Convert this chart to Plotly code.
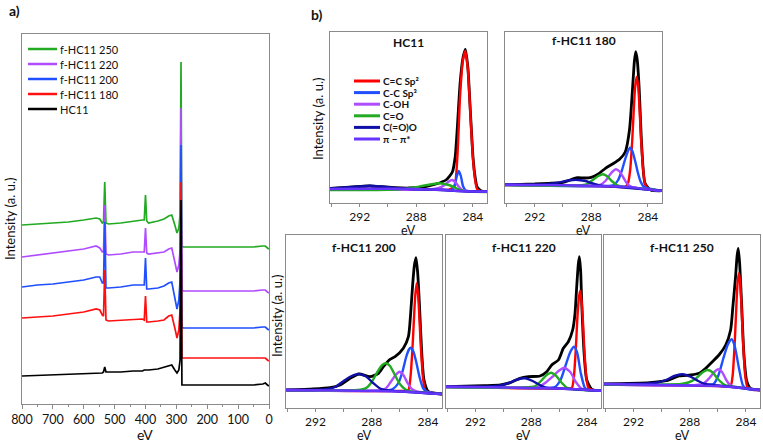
import plotly.graph_objects as go

W, H = 763, 442
FONT = "Lato"

# ---------------- Panel a: survey spectra ----------------
survey_ev = [800, 750, 700, 650, 600, 560, 548, 540, 536, 532, 528, 520, 480, 440, 410, 404, 400, 396, 390, 360,
             340, 325, 315, 305, 298, 292, 288, 285, 282, 278, 250, 200, 150, 100, 50, 20, 12, 5, 0]
survey_f250 = [179, 180, 181, 182, 184, 186, 185, 181, 182, 222, 181, 180, 181, 183, 184, 184, 209, 183, 181, 183,
               185, 188, 189, 179, 171, 176, 190, 342, 158, 157, 157, 157, 157, 157, 157, 158, 158, 156, 155]
survey_f220 = [147, 149, 151, 153, 155, 158, 156, 152, 152, 199, 150, 149, 150, 152, 152, 152, 176, 151, 150, 151,
               152, 155, 156, 142, 132, 139, 154, 296, 114, 113, 113, 113, 113, 113, 113, 114, 114, 112, 111]
survey_f200 = [117, 119, 120, 122, 124, 127, 127, 121, 121, 182, 116, 116, 117, 119, 119, 119, 146, 115, 115, 116,
               118, 121, 122, 106, 95, 104, 124, 259, 77, 76, 76, 76, 76, 76, 76, 77, 77, 75, 74]
survey_f180 = [86, 87, 88, 90, 92, 95, 94, 89, 88, 134, 84, 83, 84, 85, 85, 84, 108, 82, 82, 83,
               84, 88, 89, 76, 66, 74, 94, 222, 46, 46, 46, 46, 46, 46, 46, 46, 46, 44, 43]
survey_hc11 = [28, 28.5, 29, 29.5, 30, 30.5, 31, 31, 32, 37, 32, 32, 32, 33, 33, 34, 34, 34, 34, 35,
               37, 38, 39, 34, 31, 34, 44, 204, 19, 19, 19, 19, 19, 19, 19, 20, 21, 19, 18]
survey_names = ["f-HC11 250", "f-HC11 220", "f-HC11 200", "f-HC11 180", "HC11"]
survey_ticks = [800, 700, 600, 500, 400, 300, 200, 100, 0]

# ---------------- Panel b: C1s fits ----------------
# HC11
hc11_env_ev = [294.1, 293.0, 292.0, 291.3, 290.5, 289.5, 288.5, 287.5, 286.6, 285.9, 285.45, 285.25, 285.1, 284.9,
               284.7, 284.53, 284.35, 284.22, 284.1, 283.99, 283.85, 283.7, 283.4, 283.0]
hc11_env_i = [14.5, 15.5, 16.5, 17.0, 16.3, 15.3, 15.0, 16.0, 19.0, 23.0, 31.0, 46.0, 75.0, 120.0,
              145.0, 153.7, 135.0, 103.0, 72.0, 46.0, 27.0, 16.0, 12.0, 11.3]
hc11_sp2_ev = [294.1, 287.0, 285.7, 285.3, 285.1, 284.9, 284.7, 284.53, 284.35, 284.22, 284.1, 283.99, 283.85, 283.7, 283.4, 283.0]
hc11_sp2_i = [13.5, 13.8, 13.3, 17.0, 45.0, 108.0, 143.0, 152.0, 133.0, 101.0, 70.0, 44.0, 24.0, 14.0, 11.5, 11.3]
hc11_sp3_ev = [294.1, 286.0, 285.5, 285.3, 285.15, 285.0, 284.85, 284.7, 284.5, 283.0]
hc11_sp3_i = [13.5, 13.2, 13.0, 17.0, 26.0, 32.0, 27.0, 17.0, 12.5, 11.3]
hc11_coh_ev = [294.1, 287.0, 286.4, 286.0, 285.7, 285.48, 285.25, 285.0, 284.75, 284.4, 283.0]
hc11_coh_i = [13.5, 13.5, 15.0, 18.0, 21.5, 23.0, 21.0, 16.5, 13.0, 12.0, 11.3]
hc11_co_ev = [294.1, 290.0, 289.0, 288.2, 287.4, 286.42, 285.7, 285.2, 284.8, 284.3, 283.0]
hc11_co_i = [13.0, 13.3, 14.0, 15.5, 17.5, 19.7, 18.0, 15.0, 12.5, 11.5, 11.0]
hc11_cooc_ev = [294.1, 293.0, 292.0, 291.3, 290.5, 289.5, 288.5, 287.0, 285.0, 283.0]
hc11_cooc_i = [14.5, 15.5, 16.5, 17.2, 16.5, 15.0, 14.0, 13.5, 12.0, 11.3]
hc11_pi_ev = [294.1, 291.0, 288.0, 286.0, 285.0, 284.0, 283.0]
hc11_pi_i = [14.0, 14.3, 14.0, 13.0, 12.0, 11.5, 11.3]

# f-HC11 180
f180_env_ev = [294.1, 293.0, 292.0, 291.0, 290.0, 289.5, 289.0, 288.5, 288.0, 287.5, 287.0, 286.5, 286.0, 285.6,
               285.3, 285.03, 284.95, 284.86, 284.75, 284.62, 284.43, 284.2, 283.8, 283.0]
f180_env_i = [18.3, 18.7, 19.0, 19.7, 20.7, 23.0, 25.3, 25.0, 25.7, 29.0, 34.7, 39.0, 43.7, 51.0,
              73.0, 126.0, 142.0, 151.3, 143.0, 116.0, 56.0, 19.7, 13.0, 12.3]
f180_sp2_ev = [294.1, 287.0, 285.6, 285.4, 285.25, 285.1, 285.0, 284.9, 284.79, 284.68, 284.58, 284.48, 284.33, 284.2, 284.0, 283.6, 283.0]
f180_sp2_i = [18.0, 16.8, 16.2, 20.0, 33.0, 64.0, 92.0, 116.0, 126.3, 116.0, 92.0, 64.0, 33.0, 19.0, 14.5, 13.0, 12.3]
f180_sp3_ev = [294.1, 287.0, 286.4, 286.1, 285.85, 285.6, 285.4, 285.26, 285.1, 284.9, 284.7, 284.5, 284.3, 284.0, 283.0]
f180_sp3_i = [18.0, 16.8, 18.0, 23.0, 32.0, 44.0, 52.0, 55.3, 52.0, 42.0, 30.0, 21.0, 16.5, 14.5, 12.3]
f180_coh_ev = [294.1, 288.0, 287.4, 287.0, 286.7, 286.45, 286.25, 286.0, 285.75, 285.5, 285.2, 284.8, 283.0]
f180_coh_i = [18.0, 17.2, 18.0, 22.0, 28.0, 32.0, 33.7, 31.5, 26.0, 20.0, 16.5, 15.0, 12.3]
f180_co_ev = [294.1, 289.0, 288.3, 287.9, 287.5, 287.19, 286.9, 286.55, 286.2, 285.8, 283.0]
f180_co_i = [18.0, 17.5, 19.0, 23.0, 27.0, 28.7, 27.0, 22.0, 18.0, 16.5, 12.3]
f180_cooc_ev = [294.1, 291.5, 290.5, 289.8, 289.3, 288.91, 288.4, 287.9, 287.4, 286.5, 283.0]
f180_cooc_i = [18.3, 18.5, 20.0, 22.0, 23.0, 23.0, 22.0, 19.5, 17.5, 16.5, 12.3]
f180_pi_ev = [294.1, 292.0, 290.0, 288.0, 286.0, 285.0, 284.3, 283.5, 283.0]
f180_pi_i = [18.3, 18.0, 17.8, 17.3, 16.5, 15.5, 14.0, 12.8, 12.3]

# f-HC11 200
f200_env_ev = [294.05, 292.15, 290.97, 290.25, 289.54, 288.9, 288.12, 287.52, 287.17, 286.7, 286.34, 285.75,
               285.39, 285.23, 285.08, 284.97, 284.85, 284.73, 284.61, 284.44, 284.28, 283.97, 283.0]
f200_env_i = [18.0, 19.0, 20.3, 23.0, 29.7, 34.0, 31.3, 34.7, 41.3, 48.7, 51.3, 59.7,
              71.3, 94.7, 124.7, 142.0, 150.3, 135.0, 104.7, 54.7, 28.0, 16.3, 14.0]
f200_sp2_ev = [294.1, 286.0, 285.4, 285.25, 285.1, 285.0, 284.9, 284.8, 284.7, 284.6, 284.5, 284.35, 284.2, 284.0, 283.0]
f200_sp2_i = [18.0, 17.0, 18.0, 30.0, 60.0, 88.0, 113.0, 124.7, 113.0, 88.0, 60.0, 30.0, 18.0, 16.0, 14.0]
f200_sp3_ev = [294.1, 287.0, 286.5, 286.1, 285.8, 285.55, 285.35, 285.23, 285.05, 284.85, 284.6, 284.35, 284.1, 283.0]
f200_sp3_i = [18.0, 17.5, 19.0, 25.0, 37.0, 51.0, 58.5, 60.3, 57.0, 47.0, 31.0, 20.0, 16.5, 14.0]
f200_coh_ev = [294.1, 287.5, 287.0, 286.65, 286.3, 286.03, 285.75, 285.45, 285.15, 284.8, 283.0]
f200_coh_i = [18.0, 17.5, 19.5, 26.0, 33.0, 36.3, 33.0, 25.0, 19.0, 16.5, 14.0]
f200_co_ev = [294.1, 289.0, 288.4, 288.0, 287.6, 287.25, 286.98, 286.7, 286.35, 286.0, 285.6, 285.2, 283.0]
f200_co_i = [18.0, 18.0, 20.0, 26.0, 36.0, 43.0, 44.7, 42.0, 33.0, 24.0, 18.5, 16.5, 14.0]
f200_cooc_ev = [294.1, 291.5, 290.6, 290.0, 289.5, 288.95, 288.4, 287.9, 287.4, 286.8, 283.0]
f200_cooc_i = [18.0, 18.5, 21.0, 27.0, 31.5, 34.0, 31.5, 25.0, 19.5, 17.5, 14.0]
f200_pi_ev = [294.1, 292.0, 290.0, 288.0, 286.0, 285.0, 284.3, 283.5, 283.0]
f200_pi_i = [18.0, 17.8, 17.5, 17.0, 16.5, 15.8, 15.0, 14.3, 14.0]

# f-HC11 220
f220_env_ev = [294.05, 291.4, 290.2, 289.5, 288.8, 288.2, 287.37, 286.89, 286.53, 286.05, 285.7, 285.34,
               285.03, 284.86, 284.74, 284.63, 284.55, 284.46, 284.38, 284.21, 284.02, 283.66, 283.0]
f220_env_i = [21.3, 22.3, 23.0, 25.3, 29.7, 31.3, 32.0, 36.3, 43.0, 48.0, 59.7, 66.3,
              78.0, 94.7, 121.0, 143.0, 151.3, 138.0, 104.7, 54.7, 28.0, 18.7, 17.3]
f220_sp2_ev = [294.1, 286.0, 285.1, 284.95, 284.8, 284.7, 284.6, 284.5, 284.4, 284.3, 284.2, 284.05, 283.9, 283.6, 283.0]
f220_sp2_i = [21.0, 19.5, 20.0, 30.0, 60.0, 88.0, 108.0, 117.3, 108.0, 88.0, 60.0, 30.0, 20.0, 18.0, 17.3]
f220_sp3_ev = [294.1, 287.0, 286.3, 285.9, 285.55, 285.2, 284.93, 284.7, 284.45, 284.15, 283.9, 283.0]
f220_sp3_i = [21.0, 20.0, 21.0, 28.0, 42.0, 56.0, 61.3, 55.0, 35.0, 20.0, 18.0, 17.3]
f220_coh_ev = [294.1, 288.0, 287.5, 287.0, 286.5, 286.0, 285.62, 285.2, 284.8, 284.4, 284.0, 283.0]
f220_coh_i = [21.0, 20.5, 21.0, 25.0, 31.0, 37.5, 40.3, 36.0, 26.0, 19.5, 18.0, 17.3]
f220_co_ev = [294.1, 288.5, 287.7, 287.3, 286.9, 286.58, 286.2, 285.8, 285.4, 284.8, 283.0]
f220_co_i = [21.0, 20.5, 22.0, 27.0, 33.0, 35.3, 32.0, 25.0, 20.0, 18.5, 17.3]
f220_cooc_ev = [294.1, 291.0, 290.2, 289.6, 289.0, 288.44, 287.9, 287.4, 287.0, 286.0, 283.0]
f220_cooc_i = [21.3, 21.5, 22.5, 25.0, 28.5, 29.7, 27.0, 23.0, 20.5, 19.5, 17.3]
f220_pi_ev = [294.1, 292.0, 290.0, 288.0, 286.0, 285.0, 284.0, 283.0]
f220_pi_i = [21.3, 21.0, 20.5, 20.0, 19.5, 19.0, 18.0, 17.3]

# f-HC11 250
f250_env_ev = [294.1, 290.87, 289.69, 288.75, 287.92, 287.33, 286.86, 286.39, 285.92, 285.44, 285.09,
               284.93, 284.74, 284.63, 284.55, 284.45, 284.31, 284.15, 283.96, 283.68, 283.02]
f250_env_i = [24.0, 25.3, 27.3, 32.0, 33.0, 34.7, 39.7, 46.3, 53.0, 63.0, 78.0,
              101.3, 131.3, 152.0, 159.7, 145.0, 104.7, 54.7, 28.0, 19.7, 18.0]
f250_sp2_ev = [294.1, 286.0, 285.1, 284.95, 284.8, 284.7, 284.6, 284.5, 284.4, 284.3, 284.2, 284.05, 283.9, 283.6, 283.0]
f250_sp2_i = [23.5, 22.0, 22.0, 32.0, 65.0, 96.0, 124.0, 134.7, 124.0, 96.0, 65.0, 32.0, 21.0, 18.5, 18.0]
f250_sp3_ev = [294.1, 287.0, 286.3, 285.95, 285.6, 285.3, 285.02, 284.8, 284.5, 284.2, 283.9, 283.0]
f250_sp3_i = [23.5, 23.0, 24.0, 33.0, 50.0, 63.0, 68.7, 62.0, 40.0, 22.0, 19.0, 18.0]
f250_coh_ev = [294.1, 287.5, 287.0, 286.6, 286.25, 285.97, 285.7, 285.4, 285.1, 284.7, 283.0]
f250_coh_i = [23.5, 23.0, 24.5, 30.0, 36.0, 38.7, 36.0, 28.0, 22.5, 21.0, 18.0]
f250_co_ev = [294.1, 288.6, 288.1, 287.6, 287.1, 286.74, 286.4, 286.0, 285.5, 285.0, 283.0]
f250_co_i = [23.5, 24.0, 25.5, 29.0, 35.5, 38.0, 36.0, 29.0, 23.0, 21.5, 18.0]
f250_cooc_ev = [294.1, 291.0, 290.3, 289.7, 289.1, 288.52, 287.9, 287.4, 286.9, 286.0, 283.0]
f250_cooc_i = [24.0, 24.5, 25.5, 28.0, 32.0, 33.7, 31.0, 27.0, 24.0, 22.5, 18.0]
f250_pi_ev = [294.1, 292.0, 290.0, 288.0, 286.0, 285.0, 284.0, 283.0]
f250_pi_i = [24.0, 23.5, 23.0, 22.5, 22.0, 21.0, 19.5, 18.0]

fit_labels = ["C=C Sp²", "C-C Sp³", "C-OH", "C=O", "C(=O)O", "π − π*"]
panel_titles = ["HC11", "f-HC11 180", "f-HC11 200", "f-HC11 220", "f-HC11 250"]

# ---------------- styling ----------------
survey_colors = ["#22aa22", "#b04cff", "#1f4fff", "#ff1010", "#000000"]
fit_colors = ["#ff0000", "#1f4fff", "#b04cff", "#22aa22", "#1010a8", "#6633ff"]
FRAME = "#8a8a8a"


def fx(px):
    return px / W


def fy(py):
    return 1 - py / H


fig = go.Figure()

# panel a traces
survey_series = [survey_f250, survey_f220, survey_f200, survey_f180, survey_hc11]
for name, vals, col in zip(survey_names, survey_series, survey_colors):
    fig.add_trace(go.Scatter(x=survey_ev, y=vals, mode="lines", name=name,
                             line=dict(color=col, width=1.7), xaxis="x", yaxis="y",
                             showlegend=False, hoverinfo="skip"))

# panel b traces
panels = [
    [(hc11_env_ev, hc11_env_i), (hc11_sp2_ev, hc11_sp2_i), (hc11_sp3_ev, hc11_sp3_i), (hc11_coh_ev, hc11_coh_i),
     (hc11_co_ev, hc11_co_i), (hc11_cooc_ev, hc11_cooc_i), (hc11_pi_ev, hc11_pi_i)],
    [(f180_env_ev, f180_env_i), (f180_sp2_ev, f180_sp2_i), (f180_sp3_ev, f180_sp3_i), (f180_coh_ev, f180_coh_i),
     (f180_co_ev, f180_co_i), (f180_cooc_ev, f180_cooc_i), (f180_pi_ev, f180_pi_i)],
    [(f200_env_ev, f200_env_i), (f200_sp2_ev, f200_sp2_i), (f200_sp3_ev, f200_sp3_i), (f200_coh_ev, f200_coh_i),
     (f200_co_ev, f200_co_i), (f200_cooc_ev, f200_cooc_i), (f200_pi_ev, f200_pi_i)],
    [(f220_env_ev, f220_env_i), (f220_sp2_ev, f220_sp2_i), (f220_sp3_ev, f220_sp3_i), (f220_coh_ev, f220_coh_i),
     (f220_co_ev, f220_co_i), (f220_cooc_ev, f220_cooc_i), (f220_pi_ev, f220_pi_i)],
    [(f250_env_ev, f250_env_i), (f250_sp2_ev, f250_sp2_i), (f250_sp3_ev, f250_sp3_i), (f250_coh_ev, f250_coh_i),
     (f250_co_ev, f250_co_i), (f250_cooc_ev, f250_cooc_i), (f250_pi_ev, f250_pi_i)],
]
curve_colors = ["#000000"] + fit_colors
curve_names = ["Envelope"] + fit_labels
for k, comps in enumerate(panels):
    ax = k + 2
    for (xs, ys), col, nm in zip(comps, curve_colors, curve_names):
        fig.add_trace(go.Scatter(x=xs, y=ys, mode="lines", name=nm,
                                 line=dict(color=col, width=2.8 if col == "#000000" else 2.4,
                                           shape="spline", smoothing=0.6),
                                 xaxis=f"x{ax}", yaxis=f"y{ax}", showlegend=False, hoverinfo="skip"))

# boxes in pixels: (left, right, top, bottom)
boxes = [(22, 269, 34, 404), (330, 487, 32, 203), (505, 662, 32, 203),
         (286, 442, 235, 408), (446, 601, 235, 408), (604, 760, 235, 408)]

layout = dict(
    width=W, height=H, margin=dict(l=0, r=0, t=0, b=0, autoexpand=False),
    paper_bgcolor="white", plot_bgcolor="white", showlegend=False,
    font=dict(family=FONT, color="#111111", size=12),
)
for i, (l, r, t, b) in enumerate(boxes):
    xname = "xaxis" if i == 0 else f"xaxis{i + 1}"
    yname = "yaxis" if i == 0 else f"yaxis{i + 1}"
    common = dict(showline=True, mirror=True, linecolor=FRAME, linewidth=1,
                  showgrid=False, zeroline=False, automargin=False)
    if i == 0:
        xa = dict(domain=[fx(l), fx(r)], range=[800, 0], tickvals=survey_ticks,
                  ticks="outside", ticklen=4, tickcolor=FRAME,
                  minor=dict(ticks="outside", ticklen=2, dtick=50, tickcolor=FRAME),
                  tickfont=dict(size=12.5, family=FONT), anchor="y", **common)
        ya = dict(domain=[fy(b), fy(t)], range=[0, 370], showticklabels=False, ticks="",
                  anchor="x", **common)
    else:
        xa = dict(domain=[fx(l), fx(r)], range=[294.1, 283.0], tickmode="linear", tick0=284, dtick=4,
                  ticks="outside", ticklen=3, tickcolor=FRAME, tickfont=dict(size=12, family=FONT),
                  minor=dict(ticks="outside", ticklen=3, dtick=2, tickcolor=FRAME),
                  anchor=f"y{i + 1}", **common)
        ya = dict(domain=[fy(b), fy(t)], range=[0, (b - t)], showticklabels=False, ticks="",
                  anchor=f"x{i + 1}", **common)
    layout[xname] = xa
    layout[yname] = ya

annotations = []


def text(px, py, s, size=12, bold=False, angle=0, anchor="center"):
    annotations.append(dict(x=fx(px), y=fy(py), xref="paper", yref="paper", text=(f"<b>{s}</b>" if bold else s),
                            showarrow=False, xanchor=anchor, yanchor="middle", textangle=angle,
                            font=dict(size=size, family=FONT, color="#111111")))


text(14, 10, "a)", size=14, bold=True)
text(317, 14, "b)", size=14, bold=True)
text(10, 219, "Intensity (a. u.)", size=13, angle=-90)
text(145, 434, "eV", size=14)
text(318, 119, "Intensity (a. u.)", size=13, angle=-90)
text(277, 316, "Intensity (a. u.)", size=13, angle=-90)

# panel titles and eV labels for C1s panels
title_y = [42, 40, 247, 247, 247]
for k, (l, r, t, b) in enumerate(boxes[1:]):
    cx = (l + r) / 2
    text(cx, title_y[k], panel_titles[k], size=12, bold=True)
    text(cx, b + 27, "eV", size=12.5)

shapes = []
# panel a legend
for j, (nm, col) in enumerate(zip(survey_names, survey_colors)):
    yy = 49 + 15 * j
    shapes.append(dict(type="line", xref="paper", yref="paper", x0=fx(28), x1=fx(57), y0=fy(yy), y1=fy(yy),
                       line=dict(color=col, width=2.5)))
    text(58, yy, nm, size=11, anchor="left")

# panel b legend
for j, (nm, col) in enumerate(zip(fit_labels, fit_colors)):
    yy = 81 + 11.6 * j
    shapes.append(dict(type="line", xref="paper", yref="paper", x0=fx(354), x1=fx(380), y0=fy(yy), y1=fy(yy),
                       line=dict(color=col, width=3)))
    text(381, yy, nm, size=10, bold=True, anchor="left")

layout["annotations"] = annotations
layout["shapes"] = shapes
fig.update_layout(**layout)

fig.write_html("out.html", config={"displayModeBar": False},
               post_script="document.body.style.margin='0px';")
